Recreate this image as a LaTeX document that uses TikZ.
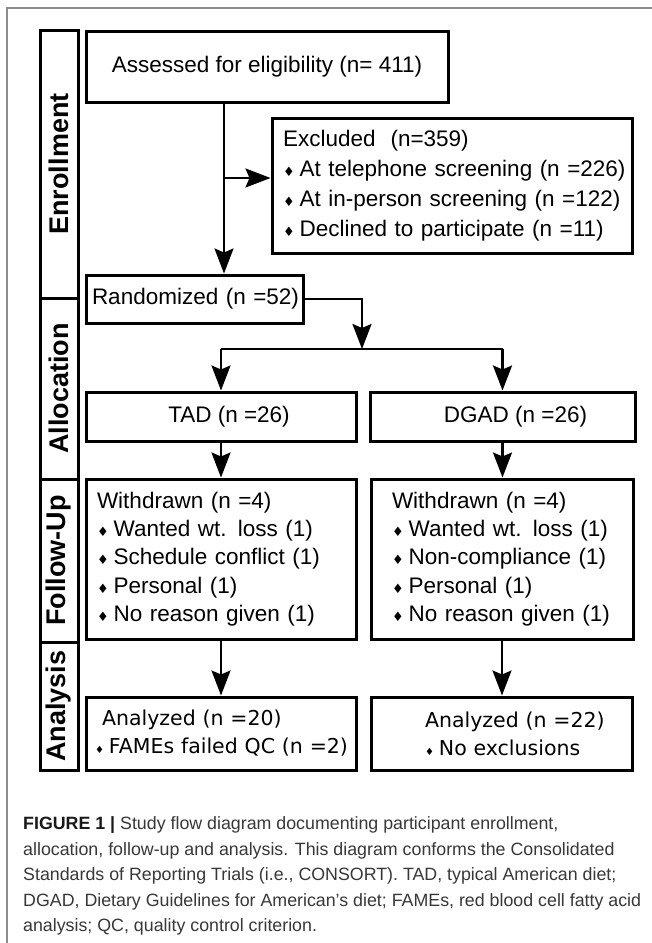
\documentclass[tikz,border=0pt]{standalone}
\usepackage{fontspec}
\setmainfont{Liberation Sans}
\newfontfamily\dvs{DejaVu Sans}
\usetikzlibrary{arrows.meta,calc}
\newcommand\dm{{\dvs\fontsize{13}{13}\selectfont\char"2666}\hspace{5pt}}
\newcommand\dms{{\dvs\fontsize{10}{10}\selectfont\char"2666}\hspace{5pt}}
\begin{document}
\begin{tikzpicture}[x=1pt,y=-1pt,
  box/.style={draw, line width=3pt, inner sep=0pt, font=\fontsize{22.5}{22.5}\selectfont},
  lbox/.style={box, align=left},
  sidebox/.style={draw, line width=3pt, inner sep=0pt, minimum width=38pt, font=\bfseries\fontsize{27}{27}\selectfont},
  arr/.style={line width=2.2pt, -{Stealth[length=25pt,width=19pt,inset=4pt]}},
  linkline/.style={line width=2.2pt},
  frameline/.style={draw=black!45, line width=1.5pt},
  captext/.style={anchor=base west, inner sep=0pt, text=black!78, font=\fontsize{17.8}{17.8}\selectfont}]
\useasboundingbox (0,0) rectangle (652,943);
\fill[white] (0,0) rectangle (652,943);
\draw[frameline] (7,943) -- (7,8) -- (652,8);

% side labels
\node[sidebox, minimum height=268pt] (sEnr) at (59,164) {\rotatebox{90}{Enrollment}};
\node[sidebox, minimum height=181pt] (sAll) at (59,388.5) {\rotatebox{90}{Allocation}};
\node[sidebox, minimum height=163pt] (sFol) at (59,560.5) {\rotatebox{90}{Follow-Up}};
\node[sidebox, minimum height=128pt] (sAna) at (59,706) {\rotatebox{90}{Analysis}};

% boxes
\node[box, minimum width=362pt, minimum height=71pt] (ass) at (267,66.5) {\raisebox{4pt}{Assessed for eligibility (n= 411)}};
\node[lbox, text width=338pt, inner xsep=11pt, minimum height=135pt, font=\fontsize{22.5}{30}\selectfont] (exc) at (452,185.5)
  {\mbox{Excluded\ \ (n=359)}\\ \mbox{\dm At telephone screening (n =226)}\\ \mbox{\dm At in-person screening (n =122)}\\ \mbox{\dm Declined to participate (n =11)}};
\node[lbox, text width=205pt, inner xsep=6pt, minimum height=48pt] (ran) at (194.5,299) {\mbox{Randomized (n =52)}};
\node[box, minimum width=270pt, minimum height=49pt] (tad) at (221,416.5) {\hspace*{16pt}TAD (n =26)};
\node[box, minimum width=265pt, minimum height=49pt] (dgad) at (502.5,416.5) {\hspace*{26pt}DGAD (n =26)};
\node[lbox, text width=248pt, inner xsep=11pt, minimum height=160pt, font=\fontsize{22.5}{28.3}\selectfont] (wl) at (221,559)
  {\mbox{Withdrawn (n =4)}\\ \mbox{\dm Wanted wt. loss (1)}\\ \mbox{\dm Schedule conflict (1)}\\ \mbox{\dm Personal (1)}\\ \mbox{\dm No reason given (1)}};
\node[lbox, text width=220pt, inner xsep=21pt, minimum height=160pt, font=\fontsize{22.5}{28.3}\selectfont] (wr) at (502,559)
  {\mbox{Withdrawn (n =4)}\\ \mbox{\dm Wanted wt. loss (1)}\\ \mbox{\dm Non-compliance (1)}\\ \mbox{\dm Personal (1)}\\ \mbox{\dm No reason given (1)}};
\node[lbox, text width=252pt, inner xsep=9pt, minimum height=73pt, font=\dvs\fontsize{20.5}{28}\selectfont] (al) at (221,733.5)
  {\mbox{\hspace*{7pt}Analyzed (n =20)}\\ \mbox{\dms FAMEs failed QC (n =2)}};
\node[lbox, text width=153pt, inner xsep=54pt, minimum height=73pt, font=\dvs\fontsize{20.5}{28}\selectfont] (ar) at (501.5,733.5)
  {\mbox{Analyzed (n =22)}\\ \mbox{\dms No exclusions}};

% connectors
\coordinate (c1) at (224,0);
\coordinate (c2) at (224,178);
\coordinate (sp) at (362,349);
\draw[arr] (ass.south -| c1) -- (ran.north -| c1);
\draw[arr] (c2) -- (c2 -| exc.west);
\draw[arr] (ran.east) -| (sp);
\coordinate (spl) at (tad.north |- sp);
\coordinate (spr) at (dgad.north |- sp);
\draw[linkline] (spl) -- (spr);
\draw[arr] (spl) -- (tad.north);
\draw[arr] (spr) -- (dgad.north);
\draw[arr] (tad.south) -- (wl.north);
\draw[arr] (dgad.south) -- (dgad.south |- wr.north);
\draw[arr] (wl.south) -- (al.north);
\draw[arr] (wr.south) -- (wr.south |- ar.north);

% caption
\node[captext] (cap1) at (23,829.5) {{\bfseries\color{black!90}FIGURE 1 |} Study flow diagram documenting participant enrollment,};
\node[captext] (cap2) at (23,855) {allocation, follow-up and analysis. This diagram conforms the Consolidated};
\node[captext] (cap3) at (23,880.5) {Standards of Reporting Trials (i.e., CONSORT). TAD, typical American diet;};
\node[captext] (cap4) at (23,906) {DGAD, Dietary Guidelines for American’s diet; FAMEs, red blood cell fatty acid};
\node[captext] (cap5) at (23,931.5) {analysis; QC, quality control criterion.};
\end{tikzpicture}
\end{document}
